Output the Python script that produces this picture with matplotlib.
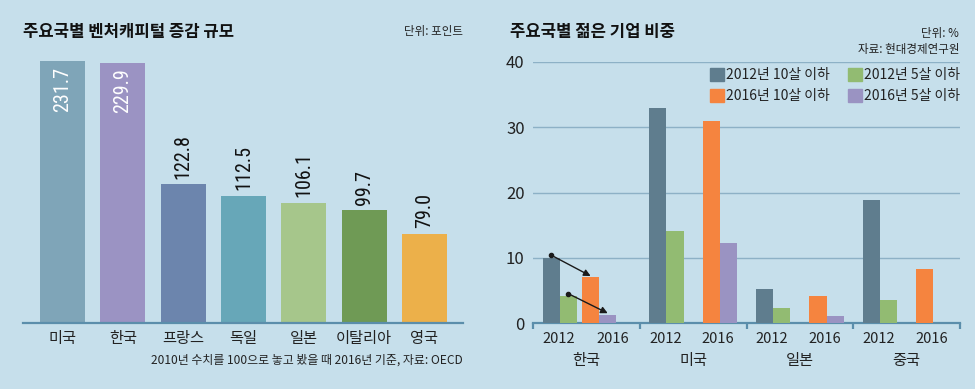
import numpy as np
import matplotlib
matplotlib.use("Agg")
import matplotlib.pyplot as plt
import matplotlib.transforms as mtransforms
from matplotlib.patches import Patch
from matplotlib import font_manager

plt.rcParams["font.family"] = ["Noto Sans CJK KR", "DejaVu Sans"]

# 왼쪽: 주요국별 벤처캐피털 증감 규모 (2010=100, 2016년 기준)
vc_countries = ["미국", "한국", "프랑스", "독일", "일본", "이탈리아", "영국"]
vc_values = [231.7, 229.9, 122.8, 112.5, 106.1, 99.7, 79.0]
vc_colors = ["#7fa5b8", "#9b93c3", "#6c85ad", "#67a7b8", "#a6c68b", "#6f9a55", "#ecb04a"]

# 오른쪽: 주요국별 젊은 기업 비중 (%)
young_countries = ["한국", "미국", "일본", "중국"]
y2012_10 = [10.0, 32.9, 5.2, 18.8]
y2012_5 = [4.1, 14.1, 2.3, 3.5]
y2016_10 = [7.0, 31.0, 4.1, 8.2]
y2016_5 = [1.3, 12.2, 1.0, 0.0]
year_labels = ["2012", "2016"]
series_names = ["2012년 10살 이하", "2012년 5살 이하", "2016년 10살 이하", "2016년 5살 이하"]
series_colors = ["#5f7d8e", "#92bb72", "#f5843f", "#9a93c2"]

BG = "#c6dfeb"
AXIS = "#5b8eab"
GRID = "#8db1c6"
W, H = 975, 389

# 좁은 숫자 글꼴이 있으면 사용
installed = {f.name for f in font_manager.fontManager.ttflist}
num_font = "Noto Sans CJK KR"
for cand in ["Liberation Sans Narrow", "DejaVu Sans Condensed", "Roboto Condensed",
             "Open Sans Condensed", "Noto Sans Condensed"]:
    if cand in installed:
        num_font = cand
        break

fig = plt.figure(figsize=(W / 100, H / 100), dpi=100, facecolor=BG)


def box(x0, y0, x1, y1):
    # pixel box (top-left origin) -> figure fraction
    return [x0 / W, 1 - y1 / H, (x1 - x0) / W, (y1 - y0) / H]


# ---------------- left chart ----------------
ax1 = fig.add_axes(box(23, 40, 463, 323))
ax1.set_facecolor(BG)
x = np.arange(len(vc_values))
ax1.bar(x, vc_values, width=0.746, color=vc_colors)
ax1.set_xlim(-0.655, 6.64)
ax1.set_ylim(0, 250.2)
for s in ["top", "right", "left"]:
    ax1.spines[s].set_visible(False)
ax1.spines["bottom"].set_color(AXIS)
ax1.spines["bottom"].set_linewidth(1.6)
ax1.set_yticks([])
ax1.set_xticks(x)
ax1.set_xticklabels(vc_countries, fontsize=11, color="#222222")
ax1.tick_params(axis="x", length=0, pad=5)

num_size = 14.5 if num_font != "Noto Sans CJK KR" else 13.5
for xi, v in zip(x, vc_values):
    if v > 200:
        ax1.annotate(f"{v:.1f}", (xi, v), xytext=(0, -4), textcoords="offset points",
                     rotation=90, ha="center", va="top", color="white",
                     fontsize=num_size, family=num_font)
    else:
        ax1.annotate(f"{v:.1f}", (xi, v), xytext=(0, 4), textcoords="offset points",
                     rotation=90, ha="center", va="bottom", color="#111111",
                     fontsize=num_size, family=num_font)

fig.text(23 / W, 1 - 32 / H, "주요국별 벤처캐피털 증감 규모", fontsize=12,
         fontweight="bold", va="center", ha="left", color="#111111")
fig.text(463 / W, 1 - 32 / H, "단위: 포인트", fontsize=8.3, va="center", ha="right",
         color="#222222")
fig.text(463 / W, 1 - 360 / H, "2010년 수치를 100으로 놓고 봤을 때 2016년 기준, 자료: OECD",
         fontsize=8.6, va="center", ha="right", color="#222222")

# ---------------- right chart ----------------
ax2 = fig.add_axes(box(533, 62, 960, 323))
ax2.set_facecolor(BG)
g = np.arange(len(young_countries))
bw = 0.16
shift16 = np.array([-0.13, 0, 0, 0])  # 한국 2016 막대는 왼쪽으로 붙어 있음
offsets = [0.17, 0.33, 0.67, 0.83]
series = [y2012_10, y2012_5, y2016_10, y2016_5]
for i, (vals, col, off) in enumerate(zip(series, series_colors, offsets)):
    pos = g + off + (shift16 if i >= 2 else 0)
    ax2.bar(pos, vals, width=bw, color=col, zorder=3)

ax2.set_xlim(0, 4)
ax2.set_ylim(0, 40)
ax2.set_yticks([0, 10, 20, 30, 40])
ax2.yaxis.grid(True, color=GRID, lw=1)
ax2.set_axisbelow(True)
for s in ["top", "right", "left"]:
    ax2.spines[s].set_visible(False)
ax2.spines["bottom"].set_color(AXIS)
ax2.spines["bottom"].set_linewidth(1.6)
ax2.tick_params(axis="y", length=0, pad=6, labelsize=12, labelcolor="#222222")
ax2.set_xticks(np.arange(0, 5))
ax2.set_xticklabels([])
ax2.tick_params(axis="x", direction="out", length=4, width=1.6, color=AXIS)

trans = mtransforms.blended_transform_factory(ax2.transData, ax2.transAxes)
for gi, name in enumerate(young_countries):
    for lab, off in zip(year_labels, [0.24, 0.735]):
        xo = off + (0.015 if (gi == 0 and lab == "2016") else 0)
        ax2.text(gi + xo, -0.061, lab, transform=trans, ha="center", va="center",
                 fontsize=10.5, color="#222222")
    ax2.text(gi + 0.5, -0.142, name, transform=trans, ha="center", va="center",
             fontsize=11, color="#222222")

# 한국 변화 화살표
k_pos = [offsets[0], offsets[1], offsets[2] + shift16[0], offsets[3] + shift16[0]]
for (x0, v0), (x1, v1) in [((k_pos[0], y2012_10[0]), (k_pos[2], y2016_10[0])),
                           ((k_pos[1], y2012_5[0]), (k_pos[3], y2016_5[0]))]:
    ax2.annotate("", xy=(x1, v1 + 0.2), xytext=(x0, v0 + 0.4),
                 arrowprops=dict(arrowstyle="-|>", color="#1a1a1a", lw=1,
                                 mutation_scale=10, shrinkA=0, shrinkB=0), zorder=5)
    ax2.plot([x0], [v0 + 0.4], "o", color="#1a1a1a", ms=3, zorder=5)

handles = [Patch(color=c) for c in series_colors]
order = [0, 2, 1, 3]
leg = ax2.legend([handles[i] for i in order], [series_names[i] for i in order],
                 ncol=2, frameon=False, loc="upper right",
                 bbox_to_anchor=(1.022, 1.013), fontsize=10,
                 handlelength=1.0, handleheight=1.0, handletextpad=0.15,
                 columnspacing=1.3, labelspacing=0.5, borderpad=0.2)
for t in leg.get_texts():
    t.set_color("#222222")

fig.text(510 / W, 1 - 32 / H, "주요국별 젊은 기업 비중", fontsize=12,
         fontweight="bold", va="center", ha="left", color="#111111")
fig.text(959 / W, 1 - 33 / H, "단위: %", fontsize=8.3, va="center", ha="right",
         color="#222222")
fig.text(959 / W, 1 - 50 / H, "자료: 현대경제연구원", fontsize=8.3, va="center", ha="right",
         color="#222222")

fig.savefig("out.png", dpi=100, facecolor=BG)
